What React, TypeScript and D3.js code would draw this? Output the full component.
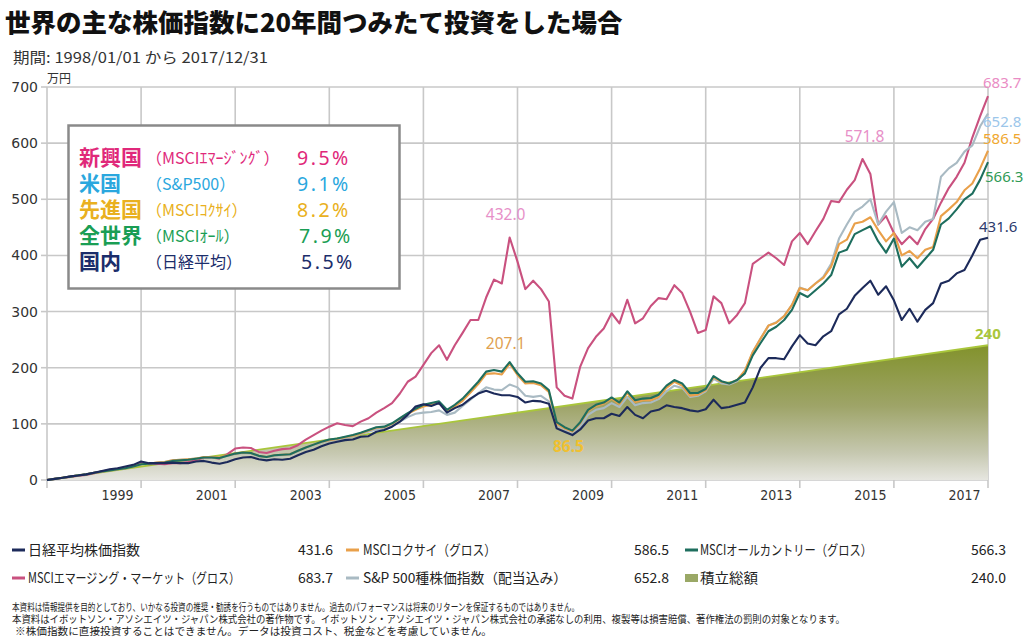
import React from 'react';
import * as d3 from 'd3';

// sample months since 1998-01 (every two months)
const months = [0,2,4,6,8,10,12,14,16,18,20,22,24,26,28,30,32,34,36,38,40,42,44,46,48,50,52,54,56,58,60,62,64,66,68,70,72,74,76,78,80,82,84,86,88,90,92,94,96,98,100,102,104,106,108,110,112,114,116,118,120,122,124,126,128,130,132,134,136,138,140,142,144,146,148,150,152,154,156,158,160,162,164,166,168,170,172,174,176,178,180,182,184,186,188,190,192,194,196,198,200,202,204,206,208,210,212,214,216,218,220,222,224,226,228,230,232,234,236,238,240];

const nikkei = [0,2,4,6.5,8,10,13,16,19,21,24,27,33,30,30,30,31,30,30,33,34,31,29,32,37,40,41,37,35,37,36,38,44,50,54,60,
  65,68,71,72,77,78,86,89,95,104,116,131,135,132,137,120,128,134,145,154,159,154,151,151,
  148,138,141,140,136,92,86,80,90,106,110,110,118,114,130,116,110,122,125,133,130,128,124,122,126,143,128,130,134,
  138,165,200,217,217,215,238,258,243,240,256,265,295,305,328,342,355,330,345,320,285,305,282,303,315,350,355,368,374,400,428,431.6];

const kokusai = [0,2,4,6,8.5,10,13,15,17,19,21,24,28,29,31,32,35,36,37,38,41,41,40,44,47,49,48,43,41,44,45,46,52,58,63,68,
  71,73,76,79,83,88,93,94,100,109,118,125,131,134,137,122,131,141,156,171,189,190,188,207.1,
  187,172,173,169,157,100,92,86.5,101,123,132,136,145,135,155,139,142,142,148,164,175,168,150,152,160,183,175,172,178,
  195,228,252,275,280,292,312,342,338,350,360,380,420,428,457,460,468,445,425,440,400,408,395,410,415,470,482,495,516,528,555,586.5];

const acwi = [0,2,4,6,8.5,10,13,15,17,19,21,24,28,29,30,31,34,35,36,38,40,40,39,43,47,49,48,43,41,44,45,46,52,58,63,68,
  72,74,77,80,84,89,94,95,101,110,119,127,134,137,140,125,134,145,160,175,193,196,193,210,
  190,175,176,172,160,103,94,88,103,125,134,138,147,138,158,142,145,146,152,168,178,172,155,155,162,185,176,172,178,
  190,222,244,265,273,285,303,333,326,338,350,365,405,410,438,445,452,425,405,430,380,395,378,394,410,455,466,482,500,510,535,566.3];

const emerging = [0,2,4,5.5,7.5,9,12,15,18,20,22,25,30,28,29,28,30,30,32,35,40,40,38,46,56,58,57,50,48,52,55,56,62,72,80,88,
  95,101,98,96,104,110,120,128,137,154,175,184,205,226,240,214,240,262,285,285,325,357,350,432.0,
  389,340,355,340,318,165,150,145,202,235,255,270,297,279,321,279,288,310,324,322,347,333,300,262,267,327,315,279,294,
  315,385,395,405,395,383,425,440,420,443,465,497,495,517,534,571.8,545,455,470,440,420,434,420,447,465,494,520,540,565,610,648,683.7];

const sp500 = [0,2,4,6,8.5,10,13,15,17,19,21,24,28,29,31,32,35,36,37,38,41,40,39,43,46,48,47,42,40,43,44,45,51,57,62,67,
  70,72,75,78,82,86,90,91,96,104,112,118,120,121,124,116,120,132,143,155,165,161,160,170,
  165,150,148,150,140,98,90,84,96,116,125,128,137,130,148,133,137,138,144,158,168,164,148,150,158,180,172,170,176,
  192,228,252,275,281,292,312,343,338,350,362,385,430,455,478,487,500,455,478,495,440,450,445,460,465,540,555,565,585,596,630,652.8];

// cumulative contribution: 1万円 per month
const contribMonths = [0, 240];
const contribValues = [0, 240];

const yTicks = [0, 100, 200, 300, 400, 500, 600, 700];
const gridMonths = [0, 24, 48, 72, 96, 120, 144, 168, 192, 216, 240];
const xLabelMonths = [18, 42, 66, 90, 114, 138, 162, 186, 210, 234];
const xLabels = ['1999', '2001', '2003', '2005', '2007', '2009', '2011', '2013', '2015', '2017'];

const boxNames = ['新興国', '米国', '先進国', '全世界', '国内'];
const boxIndex = ['（MSCIｴﾏｰｼﾞﾝｸﾞ）', '（S&P500）', '（MSCIｺｸｻｲ）', '（MSCIｵｰﾙ）', '（日経平均）'];
const boxRates = ['9.5%', '9.1%', '8.2%', '7.9%', '5.5%'];
const boxColors = ['#e0287a', '#2aa7de', '#e9b020', '#1a9e54', '#1b2d6b'];

const legendLabels = ['日経平均株価指数', 'MSCIコクサイ（グロス）', 'MSCIオールカントリー（グロス）', 'MSCIエマージング・マーケット（グロス）', 'S&P 500種株価指数（配当込み）', '積立総額'];
const legendValues = ['431.6', '586.5', '566.3', '683.7', '652.8', '240.0'];

const footnotes = [
  '本資料は情報提供を目的としており、いかなる投資の推奨・勧誘を行うものではありません。過去のパフォーマンスは将来のリターンを保証するものではありません。',
  '本資料はイボットソン・アソシエイツ・ジャパン株式会社の著作物です。イボットソン・アソシエイツ・ジャパン株式会社の承諾なしの利用、複製等は損害賠償、著作権法の罰則の対象となります。',
  '※株価指数に直接投資することはできません。データは投資コスト、税金などを考慮していません。',
];

const C = {
  nikkei: '#1c2a5a',
  kokusai: '#e9a04a',
  acwi: '#1e6e5e',
  emerging: '#c9517f',
  sp500: '#a9bac3',
  contrib: '#a9c63b',
  grid: '#c8c8c8',
  text: '#333333',
};

const CJK = '"Noto Sans CJK JP", "Noto Sans", sans-serif';

export default function App() {
  const x = d3.scaleLinear().domain([0, 240]).range([47, 988]);
  const y = d3.scaleLinear().domain([0, 700]).range([480, 87]);

  const line = d3.line<number>().x((_, i) => x(months[i])).y((d) => y(d));
  const contribPts = contribMonths.map((m, i) => [m, contribValues[i]] as [number, number]);
  const area = d3.area<[number, number]>().x((d) => x(d[0])).y0(y(0)).y1((d) => y(d[1]));
  const cLine = d3.line<[number, number]>().x((d) => x(d[0])).y((d) => y(d[1]));

  const series = [
    { vals: emerging, color: C.emerging },
    { vals: sp500, color: C.sp500 },
    { vals: kokusai, color: C.kokusai },
    { vals: acwi, color: C.acwi },
    { vals: nikkei, color: C.nikkei },
  ];

  const last = months.length - 1;
  const endLabels = [
    { text: '683.7', v: emerging[last], color: '#ea8cc4', dy: -13, dx: -5, bold: false },
    { text: '652.8', v: sp500[last], color: '#9cc6ea', dy: 9, dx: -5, bold: false },
    { text: '586.5', v: kokusai[last], color: '#f0a830', dy: -12, dx: -5, bold: false },
    { text: '566.3', v: acwi[last], color: '#2f9a55', dy: 15, dx: -3, bold: false },
    { text: '431.6', v: nikkei[last], color: '#2c3a6c', dy: -11, dx: -9, bold: false },
    { text: '240', v: contribValues[1], color: '#a9c63b', dy: -11, dx: -13, bold: true },
  ];

  const iPeakEm1 = emerging.indexOf(432.0);
  const iPeakEm2 = emerging.indexOf(571.8);
  const iPeakK = kokusai.indexOf(207.1);
  const iLowK = kokusai.indexOf(86.5);
  const notes = [
    { text: '432.0', mx: months[iPeakEm1], v: emerging[iPeakEm1], dx: -4, dy: -22, color: '#e790c8', bold: false },
    { text: '571.8', mx: months[iPeakEm2], v: emerging[iPeakEm2], dx: 2, dy: -22, color: '#e790c8', bold: false },
    { text: '207.1', mx: months[iPeakK], v: kokusai[iPeakK], dx: -4, dy: -20, color: '#e0a050', bold: false },
    { text: '86.5', mx: months[iLowK], v: kokusai[iLowK], dx: -4, dy: 16, color: '#f0c030', bold: true },
  ];

  const legendColors = [C.nikkei, C.kokusai, C.acwi, C.emerging, C.sp500, '#9aa866'];
  const colMarkX = [12, 346, 685];
  const colTextX = [28, 363, 700];
  const colValX = [333, 669, 1006];
  const rowY = [550, 578];
  const labelW = [112, 133, 172, 212, 204, 58];
  const noteW = [567, 833, 477];

  return (
    <svg width={1024} height={637} style={{ position: 'absolute', left: 0, top: 0, background: '#fff' }}>
      <defs>
        <linearGradient id="areaGrad" gradientUnits="userSpaceOnUse" x1={0} y1={y(240)} x2={0} y2={y(0)}>
          <stop offset="0" stopColor="#82922c" />
          <stop offset="0.45" stopColor="#9ea468" />
          <stop offset="0.8" stopColor="#c6c8b0" />
          <stop offset="1" stopColor="#e6e6e0" />
        </linearGradient>
      </defs>

      {/* title */}
      <text x={5} y={32} fontFamily={CJK} fontWeight={900} fontSize={25.5} fill="#111">世界の主な株価指数に20年間つみたて投資をした場合</text>
      <text x={13} y={63} fontFamily={CJK} fontSize={15} fill={C.text} textLength={255} lengthAdjust="spacingAndGlyphs">期間: 1998/01/01 から 2017/12/31</text>

      {/* grid */}
      {yTicks.map((t) => (
        <g key={'y' + t}>
          <line x1={x(0)} x2={x(240)} y1={y(t)} y2={y(t)} stroke={C.grid} strokeWidth={1.6} />
          <line x1={41} x2={x(0)} y1={y(t)} y2={y(t)} stroke={C.grid} strokeWidth={1.6} />
          <text x={38} y={y(t) + 5} textAnchor="end" fontFamily='"DejaVu Sans", sans-serif' fontSize={14} fill={C.text}>{t}</text>
        </g>
      ))}
      <text x={47} y={83} fontFamily={CJK} fontSize={12} fill={C.text}>万円</text>
      {gridMonths.map((m) => (
        <g key={'x' + m}>
          <line x1={x(m)} x2={x(m)} y1={y(700)} y2={y(0)} stroke={C.grid} strokeWidth={1.6} />
          <line x1={x(m)} x2={x(m)} y1={y(0)} y2={y(0) + 8} stroke={C.grid} strokeWidth={1.6} />
        </g>
      ))}
      {xLabelMonths.map((m, i) => (
        <text key={'xl' + m} x={x(m)} y={500} textAnchor="middle" fontFamily='"DejaVu Sans Condensed", "DejaVu Sans", sans-serif' fontSize={14} fill={C.text}>{xLabels[i]}</text>
      ))}

      {/* contribution area */}
      <path d={area(contribPts) || ''} fill="url(#areaGrad)" />
      <path d={cLine(contribPts) || ''} fill="none" stroke={C.contrib} strokeWidth={1.8} />

      {/* series */}
      {series.map((s, i) => (
        <path key={'s' + i} d={line(s.vals) || ''} fill="none" stroke={s.color} strokeWidth={2.1} strokeLinejoin="round" />
      ))}

      {/* end labels */}
      {endLabels.map((l) => (
        <text key={l.text} x={x(240) + l.dx} y={y(l.v) + l.dy + 5} fontFamily='"Noto Sans", sans-serif' fontSize={15} fontWeight={l.bold ? 700 : 400} fill={l.color}>{l.text}</text>
      ))}
      {notes.map((n) => (
        <text key={n.text} x={x(n.mx) + n.dx} y={y(n.v) + n.dy + 5} textAnchor="middle" fontFamily='"Noto Sans", sans-serif' fontSize={15.5} fontWeight={n.bold ? 700 : 400} fill={n.color}>{n.text}</text>
      ))}

      {/* legend box */}
      <rect x={68.5} y={125.5} width={331} height={163} fill="#fff" stroke="#8a8a8a" strokeWidth={2.5} />
      {boxNames.map((nm, i) => {
        const by = 165 + i * 26;
        return (
          <g key={nm}>
            <text x={79} y={by} fontFamily={CJK} fontWeight={700} fontSize={21} fill={boxColors[i]}>{nm}</text>
            <text x={146} y={by - 1} fontFamily={CJK} fontSize={16} fill={boxColors[i]}>{boxIndex[i]}</text>
            <text x={297 + (i >= 3 ? i - 2 : 0) * 2} y={by} fontFamily='"Noto Sans", sans-serif' fontSize={19.5} letterSpacing={2.5} fill={boxColors[i]}>{boxRates[i]}</text>
          </g>
        );
      })}

      {/* bottom legend */}
      {legendLabels.map((lb, i) => {
        const col = i % 3;
        const row = Math.floor(i / 3);
        const cy = rowY[row];
        return (
          <g key={lb}>
            {i === 5 ? (
              <rect x={colMarkX[col]} y={cy - 4} width={13} height={8} fill={legendColors[i]} />
            ) : (
              <line x1={colMarkX[col]} x2={colMarkX[col] + 13} y1={cy} y2={cy} stroke={legendColors[i]} strokeWidth={3} />
            )}
            <text x={colTextX[col]} y={cy + 5} fontFamily={CJK} fontSize={14} fill="#222" textLength={labelW[i]} lengthAdjust="spacingAndGlyphs">{lb}</text>
            <text x={colValX[col]} y={cy + 5} textAnchor="end" fontFamily={CJK} fontSize={14} fill="#222">{legendValues[i]}</text>
          </g>
        );
      })}

      {/* footnotes */}
      {footnotes.map((f, i) => (
        <text key={i} x={i === 2 ? 15 : 12} y={611 + i * 12} fontFamily={CJK} fontSize={10.2} fill="#222" textLength={noteW[i]} lengthAdjust="spacingAndGlyphs">{f}</text>
      ))}
    </svg>
  );
}
